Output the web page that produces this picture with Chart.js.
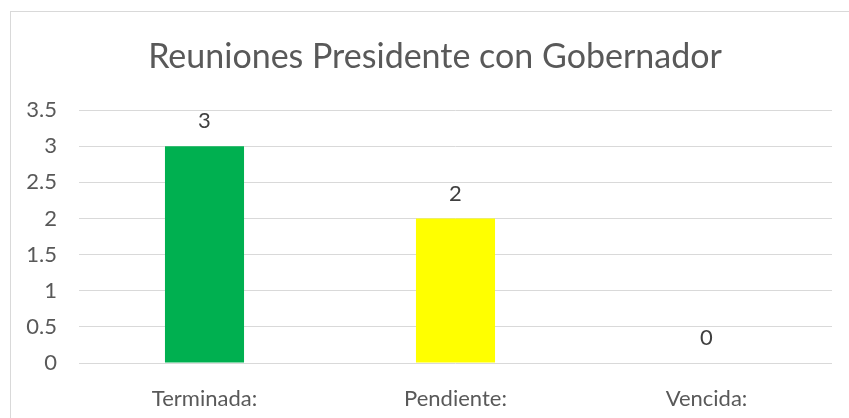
<!DOCTYPE html>
<html>
<head>
<meta charset="utf-8">
<script src="https://cdn.jsdelivr.net/npm/chart.js"></script>
<style>
  html, body { margin:0; padding:0; background:#fff; overflow:hidden; }
  #wrap { position:relative; width:849px; height:418px; }
  #frame { position:absolute; left:10px; top:11px; width:900px; height:450px; border:1px solid #d9d9d9; box-sizing:border-box; }
  #c { position:absolute; left:0; top:0; }
</style>
</head>
<body>
<div id="wrap">
  <div id="frame"></div>
  <canvas id="c" width="849" height="418"></canvas>
</div>
<script>
// datos del gráfico
var categorias = ['Terminada:', 'Pendiente:', 'Vencida:'];
var valores = [3, 2, 0];
var colores = ['#00B050', '#FFFF00', '#FF0000'];
var titulo = 'Reuniones Presidente con Gobernador';

var FONT = 'Lato, "Open Sans", sans-serif';

// etiquetas de valor encima de las barras + título centrado en el marco
var etiquetasPlugin = {
  id: 'etiquetas',
  afterDatasetsDraw: function(chart) {
    var ctx = chart.ctx;
    var meta = chart.getDatasetMeta(0);
    ctx.save();
    ctx.font = '22px ' + FONT;
    ctx.fillStyle = '#404040';
    ctx.textAlign = 'center';
    ctx.textBaseline = 'middle';
    meta.data.forEach(function(bar, i) {
      ctx.fillText(String(valores[i]), bar.x, bar.y - 25);
    });
    ctx.font = '34px ' + FONT;
    ctx.fillStyle = '#595959';
    ctx.fillText(titulo, 435, 57);
    ctx.restore();
  }
};

new Chart(document.getElementById('c').getContext('2d'), {
  type: 'bar',
  data: {
    labels: categorias,
    datasets: [{
      data: valores,
      backgroundColor: colores,
      barPercentage: 0.63,
      categoryPercentage: 0.5
    }]
  },
  options: {
    responsive: false,
    animation: false,
    layout: { padding: { left: 0, right: 17, top: 110, bottom: 0 } },
    plugins: {
      legend: { display: false },
      tooltip: { enabled: false },
      title: { display: false }
    },
    scales: {
      x: {
        grid: { display: false, drawTicks: false },
        border: { display: false },
        ticks: { color: '#595959', font: { family: FONT, size: 22 }, padding: 23 },
        afterFit: function(s) { s.height = 55; }
      },
      y: {
        min: 0, max: 3.5,
        grid: { color: '#d9d9d9', drawTicks: false },
        border: { display: false },
        ticks: {
          stepSize: 0.5, color: '#595959', font: { family: FONT, size: 22 }, padding: 22,
          callback: function(v) { return String(v); }
        },
        afterFit: function(s) { s.width = 79; }
      }
    }
  },
  plugins: [etiquetasPlugin]
});
</script>
</body>
</html>
